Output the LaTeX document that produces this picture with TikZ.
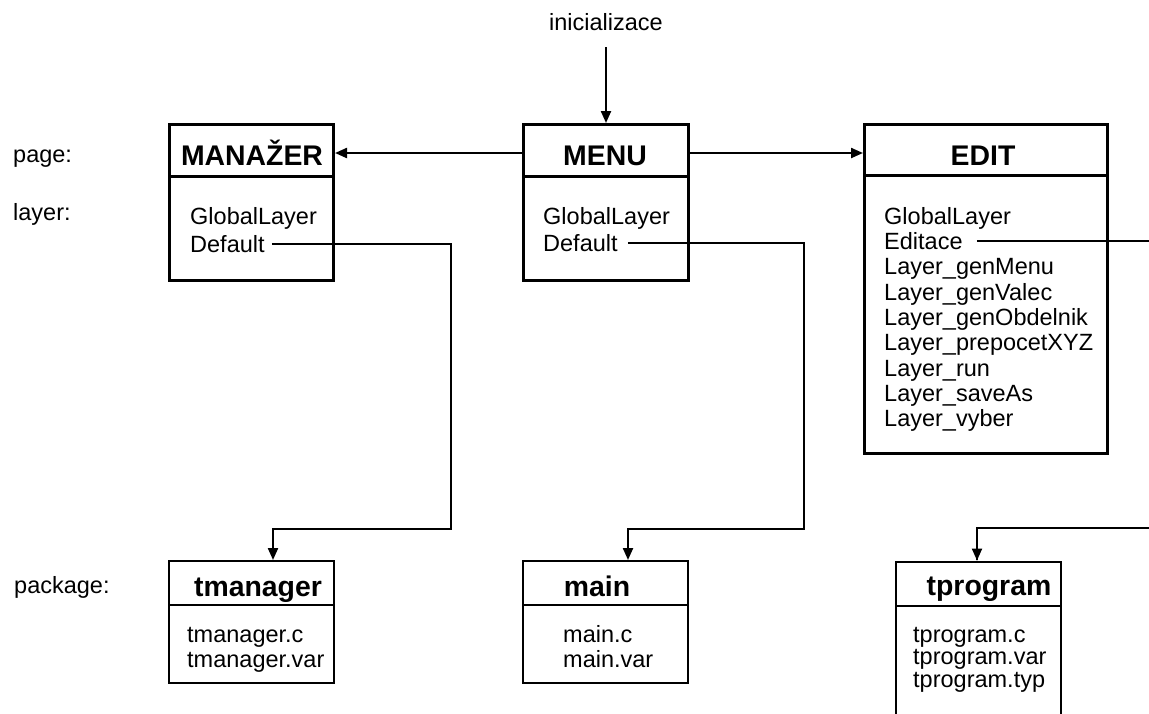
\documentclass[tikz,border=0pt]{standalone}
\usepackage{fontspec}
\setmainfont{Liberation Sans}
\usetikzlibrary{arrows.meta}

\newcommand\itemfont{\fontsize{23.5}{25.3}\selectfont}
\newcommand\titlefont{\fontsize{28.4}{30}\selectfont\bfseries}

\tikzset{
    pagebox/.style={draw, line width=3.4pt, inner sep=0pt},
    packbox/.style={draw, line width=2pt, inner sep=0pt},
    title/.style={font=\titlefont, anchor=base, inner sep=0pt},
    item/.style={font=\itemfont, anchor=base west, inner sep=0pt},
    link/.style={line width=2.2pt, -{Triangle[length=12pt,width=10pt]}},
}

\begin{document}
\begin{tikzpicture}[x=1pt, y=-1pt]
    \useasboundingbox (0,0) rectangle (1149,713);
    \clip (0,0) rectangle (1149,713);

    % row labels
    \node[item] (pageLbl) at (13,162) {page:};
    \node[item] (layerLbl) at (13,220) {layer:};
    \node[item] (packLbl) at (14,593) {package:};

    % pages
    \node[pagebox, minimum width=163.6pt, minimum height=51.6pt] (manHead) at (251.5,150.5) {};
    \node[pagebox, minimum width=163.6pt, minimum height=104pt] (manBody) at (251.5,228.3) {};
    \node[title] (manTitle) at (252,165) {MANAŽER};
    \node[item] (manGlob) at (190,224.5) {GlobalLayer};
    \node[item] (manDef) at (190,252) {Default};

    \node[pagebox, minimum width=164.6pt, minimum height=51.6pt] (menuHead) at (606,150.5) {};
    \node[pagebox, minimum width=164.6pt, minimum height=104pt] (menuBody) at (606,228.3) {};
    \node[title] (menuTitle) at (605,165.5) {MENU};
    \node[item] (menuGlob) at (543,224.5) {GlobalLayer};
    \node[item] (menuDef) at (543,251.5) {Default};

    \node[pagebox, minimum width=242.6pt, minimum height=50.6pt] (editHead) at (986,150) {};
    \node[pagebox, minimum width=242.6pt, minimum height=278pt] (editBody) at (986,314.3) {};
    \node[title] (editTitle) at (983,165) {EDIT};
    \foreach \txt [count=\i from 0] in {GlobalLayer, Editace, Layer\_genMenu, Layer\_genValec,
        Layer\_genObdelnik, Layer\_prepocetXYZ, Layer\_run, Layer\_saveAs, Layer\_vyber}
        \node[item] (edit\i) at (884,224.3+25.3*\i) {\txt};

    % packages
    \node[packbox, minimum width=165pt, minimum height=44pt] (tmanHead) at (251.5,583) {};
    \node[packbox, minimum width=165pt, minimum height=78pt] (tmanBody) at (251.5,644) {};
    \node[title] (tmanTitle) at (258,596.5) {tmanager};
    \node[item] (tmanC) at (187,642) {tmanager.c};
    \node[item] (tmanVar) at (187,667) {tmanager.var};

    \node[packbox, minimum width=165pt, minimum height=44pt] (mainHead) at (605.5,583) {};
    \node[packbox, minimum width=165pt, minimum height=78pt] (mainBody) at (605.5,644) {};
    \node[title] (mainTitle) at (597,596) {main};
    \node[item] (mainC) at (563,642) {main.c};
    \node[item] (mainVar) at (563,667) {main.var};

    \node[packbox, minimum width=165pt, minimum height=44pt] (tprogHead) at (978.5,583.5) {};
    \node[packbox, minimum width=165pt, minimum height=132.5pt] (tprogBody) at (978.5,671.75) {};
    \node[title] (tprogTitle) at (989,595) {tprogram};
    \node[item] (tprogC) at (913,642) {tprogram.c};
    \node[item] (tprogVar) at (913,664.5) {tprogram.var};
    \node[item] (tprogTyp) at (913,687) {tprogram.typ};

    % links
    \node[item, anchor=base] (inic) at (606,30) {inicializace};
    \draw[link] (inic.south) ++(0,17) -- (menuHead.north);
    \draw[link] ([yshift=-2.5pt]menuHead.west) -- ([yshift=-2.5pt]manHead.east);
    \draw[link] ([yshift=-2.5pt]menuHead.east) -- ([yshift=-2.5pt]menuHead.east -| editHead.west);

    \draw[link] ([xshift=7pt]manDef.east) -| (451,529) -| ([xshift=21.5pt]tmanHead.north);
    \draw[link] ([xshift=10pt]menuDef.east) -| (804,529) -| ([xshift=22.5pt]mainHead.north);
    \draw[link] ([xshift=14pt]edit1.east) -| (1170,528) -| (977,560) -- ([xshift=-1.5pt]tprogHead.north);
\end{tikzpicture}
\end{document}
